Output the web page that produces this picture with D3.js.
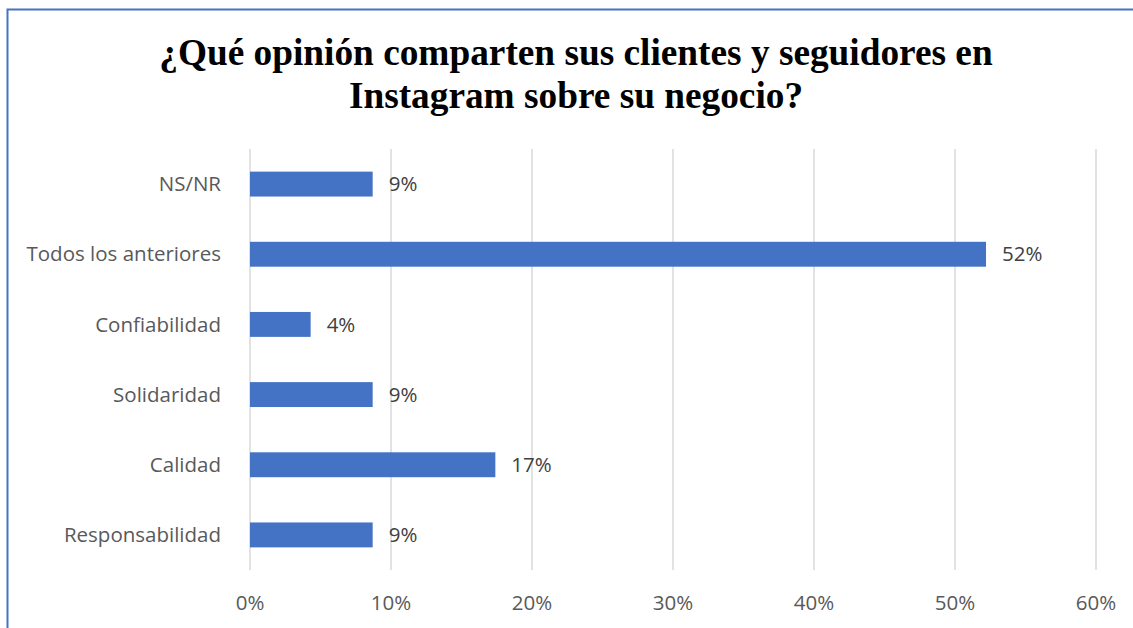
<!DOCTYPE html>
<html><head><meta charset="utf-8">
<script src="https://cdn.jsdelivr.net/npm/d3@7"></script>
<style>html,body{margin:0;padding:0;background:#fff;}svg{display:block;}</style>
</head><body>
<svg id="c" width="1133" height="628"></svg>
<script>
const categories = ["NS/NR","Todos los anteriores","Confiabilidad","Solidaridad","Calidad","Responsabilidad"];
const values = [0.087,0.522,0.043,0.087,0.174,0.087];
const valueLabels = ["9%","52%","4%","9%","17%","9%"];
const ticks = [0,0.1,0.2,0.3,0.4,0.5,0.6];
const titleLines = ["¿Qué opinión comparten sus clientes y seguidores en","Instagram sobre su negocio?"];

const svg = d3.select("#c");
svg.append("rect").attr("x",7.5).attr("y",9.5).attr("width",1140).attr("height",640)
  .attr("fill","#fff").attr("stroke","#4472C4").attr("stroke-width",2);

const title = svg.append("text").attr("x",576).attr("y",65).attr("text-anchor","middle")
  .attr("font-family","'Liberation Serif','Times New Roman',serif").attr("font-weight","bold")
  .attr("font-size",37.3).attr("fill","#000");
titleLines.forEach((t,i)=>title.append("tspan").attr("x",576).attr("y",65+i*42.5).text(t));

const x = d3.scaleLinear().domain([0,0.6]).range([250,1096]);
const y = d3.scaleBand().domain(categories).range([149,570]).paddingInner(0.645).paddingOuter(0.3225);

const font = "'Open Sans',sans-serif";
const fs = 20.5;
svg.append("g").selectAll("line").data(ticks).join("line")
  .attr("x1",d=>x(d)).attr("x2",d=>x(d)).attr("y1",149).attr("y2",570)
  .attr("stroke","#d9d9d9").attr("stroke-width",1.5);

svg.append("g").selectAll("rect").data(values).join("rect")
  .attr("x",x(0)).attr("y",(d,i)=>y(categories[i])).attr("width",d=>x(d)-x(0))
  .attr("height",y.bandwidth()).attr("fill","#4472C4");

svg.append("g").selectAll("text").data(values).join("text")
  .attr("x",d=>x(d)+16).attr("y",(d,i)=>y(categories[i])+y.bandwidth()/2).attr("dy","0.35em")
  .attr("font-family",font).attr("font-size",fs).attr("fill","#404040").text((d,i)=>valueLabels[i]);

svg.append("g").selectAll("text").data(categories).join("text")
  .attr("x",221).attr("y",d=>y(d)+y.bandwidth()/2).attr("dy","0.35em").attr("text-anchor","end")
  .attr("font-family",font).attr("font-size",fs).attr("fill","#595959").text(d=>d);

svg.append("g").selectAll("text").data(ticks).join("text")
  .attr("x",d=>x(d)).attr("y",603).attr("dy","0.35em").attr("text-anchor","middle")
  .attr("font-family",font).attr("font-size",fs).attr("fill","#595959").text(d=>d3.format(".0%")(d));
</script>
</body></html>
